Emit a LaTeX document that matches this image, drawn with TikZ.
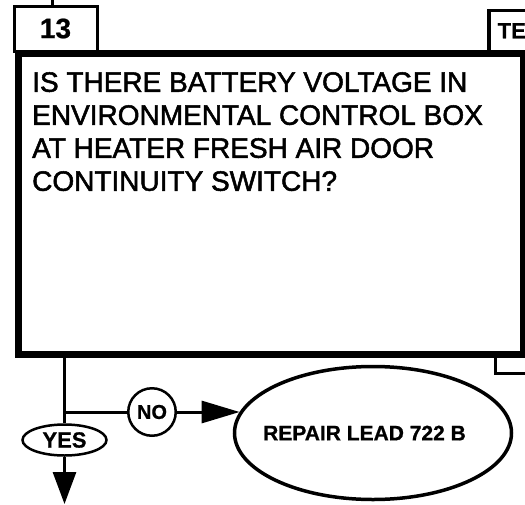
\documentclass[tikz,border=0pt]{standalone}
\usepackage{fontspec}
\setmainfont{Liberation Sans}
\newfontfamily\heavyfont{Liberation Sans}[FakeBold=1.8]
\newfontfamily\boldheavy{Liberation Sans Bold}[FakeBold=0.8]
\usetikzlibrary{shapes.geometric,arrows.meta}
\begin{document}
\begin{tikzpicture}[x=1pt,y=-1pt,
  thickframe/.style={draw, line width=7pt, inner sep=0pt},
  tabbox/.style={draw, line width=3pt, inner sep=0pt},
  conn/.style={line width=3pt},
  oval/.style={ellipse, draw, line width=2.5pt, inner sep=0pt},
  lbl/.style={font=\boldheavy\fontsize{21}{21}\selectfont}]
\useasboundingbox (0,0) rectangle (525,504);
% tabs
\node[tabbox, anchor=north west, minimum width=83pt, minimum height=45pt,
      font=\boldheavy\fontsize{28}{28}\selectfont] (tab) at (12.5,4.5) {13};
\node[tabbox, line width=3.5pt, anchor=north west, minimum width=46pt, minimum height=41pt,
      font=\boldheavy\fontsize{22}{22}\selectfont] (tabte) at (487,8.5) {TE};
\node[tabbox, anchor=north west, minimum width=40pt, minimum height=20pt] (nextbox) at (494,352) {};
% main box
\node[thickframe, anchor=north west, minimum width=505pt, minimum height=301.5pt] (box) at (14.5,49.5) {};
\node[anchor=north west, align=left, inner sep=0pt,
      font=\heavyfont\fontsize{28}{33}\selectfont] (q) at (32,72)
  {IS THERE BATTERY VOLTAGE IN\\ENVIRONMENTAL CONTROL BOX\\AT HEATER FRESH AIR DOOR\\CONTINUITY SWITCH?};
% incoming tick
\coordinate (intop) at (52,0);
\draw[conn] (intop) -- (tab.north -| intop);
% decisions
\node[oval, font=\boldheavy\fontsize{22}{22}\selectfont, minimum width=84pt, minimum height=31pt] (yes) at (64.5,440) {YES};
\node[circle, draw, line width=2.5pt, minimum size=47.5pt, inner sep=0pt,
      font=\boldheavy\fontsize{20}{20}\selectfont] (no) at (152,412) {NO};
\node[oval, line width=3.5pt, minimum width=277pt, minimum height=133pt,
      font=\boldheavy\fontsize{21}{21}\selectfont] (repair) at (373,433) {\hspace*{-17pt}REPAIR LEAD 722 B};
\coordinate (split) at (64.5,412);
\coordinate (yesend) at (64.5,504);
\draw[conn] (box.south -| yes.north) -- (yes.north);
\draw[conn] (split) -- (no.west);
\draw[conn, -{Triangle[length=38pt,width=22pt]}] (no.east) -- (no.east -| repair.171);
\draw[conn, -{Triangle[length=32pt,width=23pt]}] (yes.south) -- (yesend);
\end{tikzpicture}
\end{document}
